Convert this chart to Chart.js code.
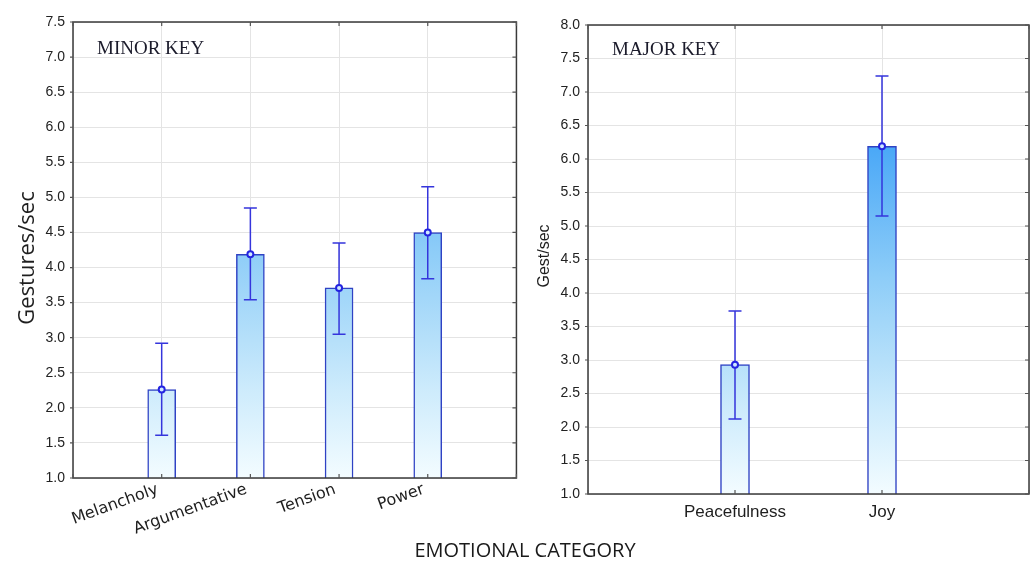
<!DOCTYPE html>
<html>
<head>
<meta charset="utf-8">
<script src="https://cdn.jsdelivr.net/npm/chart.js@4/dist/chart.umd.min.js"></script>
<style>
html,body{margin:0;padding:0;background:#fff;width:1033px;height:563px;overflow:hidden;}
#c1{position:absolute;left:0;top:0;}
#c2{position:absolute;left:520px;top:0;}
#xt{position:absolute;left:0;width:1050px;top:538px;text-align:center;font-family:"Open Sans",sans-serif;font-size:20px;color:#1a1a1a;line-height:24px;}
</style>
</head>
<body>
<canvas id="c1" width="525" height="563"></canvas>
<canvas id="c2" width="517" height="563"></canvas>
<div id="xt">EMOTIONAL CATEGORY</div>
<script>
// ---- data ----
const minorCategories = ['', 'Melancholy', 'Argumentative', 'Tension', 'Power', ''];
const minorMeans      = [null, 2.26, 4.19, 3.71, 4.50, null];
const minorLow        = [null, 1.61, 3.54, 3.05, 3.84, null];
const minorHigh       = [null, 2.92, 4.85, 4.35, 5.15, null];

const majorCategories = ['', 'Peacefulness', 'Joy', ''];
const majorMeans      = [null, 2.93, 6.19, null];
const majorLow        = [null, 2.12, 5.15, null];
const majorHigh       = [null, 3.73, 7.24, null];

const minorTitle = 'MINOR KEY';
const majorTitle = 'MAJOR KEY';
const minorYLabel = 'Gestures/sec';
const majorYLabel = 'Gest/sec';

// ---- styling helpers ----
function barFill(c) {
  const chart = c.chart;
  if (!chart.chartArea) return '#9fd3fa';
  const y = chart.scales.y;
  const g = chart.ctx.createLinearGradient(0, y.getPixelForValue(1), 0, y.getPixelForValue(8));
  g.addColorStop(0, '#f3fcff');
  g.addColorStop(0.18, '#cdebfc');
  g.addColorStop(0.28, '#b6e0fa');
  g.addColorStop(0.46, '#8ecdf8');
  g.addColorStop(0.74, '#4aa8f7');
  g.addColorStop(1, '#2a8ef0');
  return g;
}

const errorBarPlugin = {
  id: 'errorBars',
  afterDatasetDraw(chart, args, opts) {
    if (args.meta.type !== 'bar') return;
    const {ctx, scales: {x, y}} = chart;
    const lo = opts.low, hi = opts.high;
    ctx.save();
    ctx.strokeStyle = '#3535dc';
    ctx.lineWidth = 1.5;
    for (let i = 0; i < lo.length; i++) {
      if (lo[i] == null) continue;
      const px = x.getPixelForValue(i);
      const y1 = y.getPixelForValue(lo[i]);
      const y2 = y.getPixelForValue(hi[i]);
      ctx.beginPath();
      ctx.moveTo(px, y1); ctx.lineTo(px, y2);
      ctx.moveTo(px - 6.5, y1); ctx.lineTo(px + 6.5, y1);
      ctx.moveTo(px - 6.5, y2); ctx.lineTo(px + 6.5, y2);
      ctx.stroke();
    }
    ctx.restore();
  }
};

const framePlugin = {
  id: 'frame',
  afterDraw(chart, args, opts) {
    const {ctx, chartArea: a, scales: {x, y}} = chart;
    ctx.save();
    ctx.strokeStyle = '#3a3a3a';
    ctx.lineWidth = 1.5;
    ctx.strokeRect(a.left, a.top, a.right - a.left, a.bottom - a.top);
    ctx.beginPath();
    ctx.lineWidth = 1.2;
    ctx.strokeStyle = '#555';
    y.ticks.forEach(t => {
      const py = y.getPixelForValue(t.value);
      ctx.moveTo(a.right, py); ctx.lineTo(a.right - 4, py);
      ctx.moveTo(a.left, py); ctx.lineTo(a.left - 3, py);
    });
    x.ticks.forEach((t, i) => {
      const px = x.getPixelForValue(i);
      ctx.moveTo(px, a.top); ctx.lineTo(px, a.top + 4);
      ctx.moveTo(px, a.bottom); ctx.lineTo(px, a.bottom - 4);
    });
    ctx.stroke();
    // panel title
    ctx.fillStyle = '#1b1b2b';
    ctx.font = '19px "Liberation Serif", serif';
    ctx.textBaseline = 'middle';
    ctx.textAlign = 'left';
    ctx.fillText(opts.title, a.left + opts.tx, opts.ty);
    // y axis title
    ctx.save();
    ctx.translate(opts.yx, opts.yy);
    ctx.rotate(-Math.PI / 2);
    ctx.textAlign = 'center';
    ctx.fillStyle = '#1e1e1e';
    ctx.font = opts.yFont;
    ctx.fillText(opts.yLabel, 0, 0);
    ctx.restore();
    ctx.restore();
  }
};

function makeChart(id, cats, means, lo, hi, ymin, ymax, cfg) {
  return new Chart(document.getElementById(id), {
    type: 'bar',
    data: {
      labels: cats,
      datasets: [
        {
          type: 'bar', data: means, order: 2,
          backgroundColor: barFill, borderColor: '#2f42c4', borderWidth: 1.5,
          barThickness: cfg.barW, borderSkipped: false
        },
        {
          type: 'line', data: means, order: 1, showLine: false,
          pointRadius: 3, pointBorderWidth: 2, pointBorderColor: '#2424e0',
          pointBackgroundColor: '#cfe9ff'
        }
      ]
    },
    options: {
      responsive: false, animation: false,
      layout: {padding: {left: 0, right: cfg.padRight, top: cfg.padTop, bottom: 0}},
      plugins: {
        legend: {display: false}, tooltip: {enabled: false},
        errorBars: {low: lo, high: hi},
        frame: {title: cfg.title, tx: cfg.tx, ty: cfg.ty, yLabel: cfg.yLabel,
                yFont: cfg.yFont, yx: cfg.yx, yy: cfg.yy}
      },
      scales: {
        x: {
          type: 'category', offset: false,
          grid: {offset: false, color: '#e4e4e4', lineWidth: 1, drawTicks: false},
          border: {display: false},
          ticks: {
            autoSkip: false, maxRotation: cfg.rot, minRotation: cfg.rot,
            labelOffset: cfg.labelOffset, padding: cfg.xPad,
            color: '#1e1e1e', font: {family: cfg.xFont, size: cfg.xSize}
          },
          afterFit(s) { s.height = cfg.xH; }
        },
        y: {
          min: ymin, max: ymax,
          grid: {color: '#e4e4e4', lineWidth: 1, drawTicks: false},
          border: {display: false},
          ticks: {
            stepSize: 0.5, padding: 8, color: '#222',
            font: {family: '"Liberation Sans", Arial, sans-serif', size: 14},
            callback: v => Number(v).toFixed(1)
          },
          afterFit(s) { s.width = cfg.yW; }
        }
      }
    },
    plugins: [errorBarPlugin, framePlugin]
  });
}

makeChart('c1', minorCategories, minorMeans, minorLow, minorHigh, 1, 7.5, {
  barW: 28, padRight: 3, padTop: 22, yW: 73, xH: 85, rot: 20, labelOffset: -4, xPad: 2,
  xFont: '"DejaVu Sans", sans-serif', xSize: 16, yLabel: minorYLabel,
  yFont: '22px "Open Sans", sans-serif', yx: 28, yy: 258,
  title: minorTitle, tx: 24, ty: 49
});

makeChart('c2', majorCategories, majorMeans, majorLow, majorHigh, 1, 8, {
  barW: 29, padRight: 4, padTop: 25, yW: 68, xH: 69, rot: 0, labelOffset: 0, xPad: 8,
  xFont: '"Liberation Sans", Arial, sans-serif', xSize: 17, yLabel: majorYLabel,
  yFont: '16px "Liberation Sans", Arial, sans-serif', yx: 25, yy: 256,
  title: majorTitle, tx: 24, ty: 50
});
</script>
</body>
</html>
